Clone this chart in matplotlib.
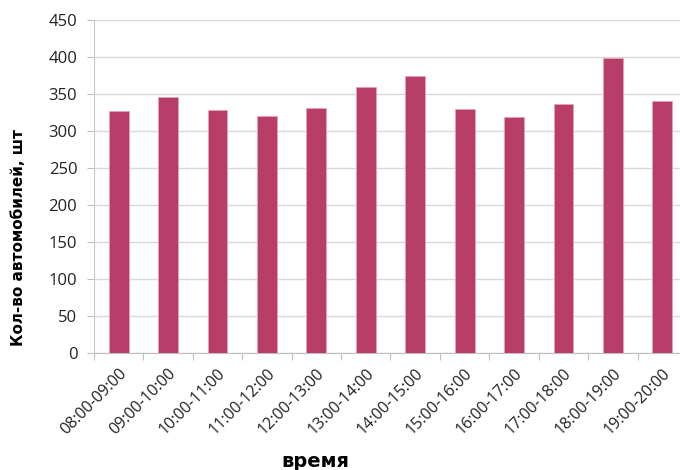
import numpy as np
import matplotlib.pyplot as plt

intervals = ['08:00-09:00', '09:00-10:00', '10:00-11:00', '11:00-12:00',
             '12:00-13:00', '13:00-14:00', '14:00-15:00', '15:00-16:00',
             '16:00-17:00', '17:00-18:00', '18:00-19:00', '19:00-20:00']
cars = [327, 346, 328, 320, 331, 360, 374, 330, 319, 337, 399, 340]

plt.rcParams['font.family'] = ['Open Sans', 'DejaVu Sans']

fig = plt.figure(figsize=(6.8, 4.7), dpi=100)
ax = fig.add_axes([94 / 680, 117 / 470, 593 / 680, 333 / 470])

x = np.arange(len(intervals))
ax.bar(x, cars, width=0.4, color='#b83d68', edgecolor='#e8a0b8', linewidth=0.6, zorder=3)

ax.set_xlim(-0.5, len(intervals) - 0.5)
ax.set_ylim(0, 450)
ax.set_yticks(np.arange(0, 451, 50))
ax.yaxis.grid(True, color='#d9d9d9', linewidth=1, zorder=0)

# ticks between categories, labels at centres
ax.set_xticks(np.arange(-0.5, len(intervals), 1))
ax.set_xticklabels([])
ax.set_xticks(x, minor=True)
ax.set_xticklabels(intervals, minor=True, rotation=45, ha='right',
                   rotation_mode='anchor', fontsize=11.5, color='#222222')
ax.tick_params(axis='x', which='minor', length=0, pad=9)
ax.tick_params(axis='x', which='major', length=5, color='#bfbfbf', direction='out')
ax.tick_params(axis='y', length=5, color='#bfbfbf', labelsize=12, labelcolor='#222222', pad=7)

for s in ['top', 'right']:
    ax.spines[s].set_visible(False)
ax.spines['left'].set_color('#c8c8c8')
ax.spines['bottom'].set_color('#bfbfbf')

ax.set_ylabel('Кол-во автомобилей, шт', fontsize=11, fontweight='heavy', family='DejaVu Sans')
ax.yaxis.set_label_coords(-0.115, 0.348)
ax.set_xlabel('время', fontsize=14, fontweight='heavy', family='DejaVu Sans', va='center')
ax.xaxis.set_label_coords(0.373, -0.327)

fig.savefig('out.png', dpi=100)
